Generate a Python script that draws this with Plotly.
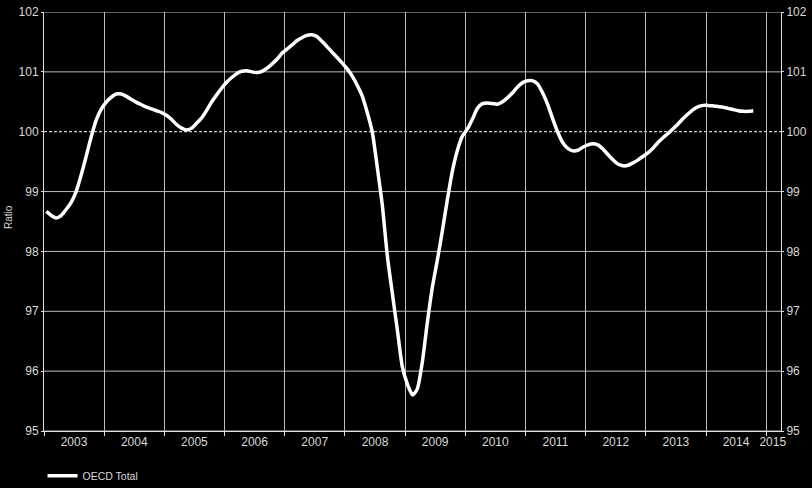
import plotly.graph_objects as go

years = list(range(2003, 2015))
series_name = "OECD Total"

v2003 = [98.67, 98.60, 98.56, 98.60, 98.70, 98.82, 99.00, 99.28, 99.60, 99.92, 100.20, 100.38]
v2004 = [100.50, 100.58, 100.63, 100.63, 100.59, 100.54, 100.49, 100.45, 100.41, 100.38, 100.35, 100.32]
v2005 = [100.27, 100.20, 100.12, 100.06, 100.03, 100.06, 100.14, 100.23, 100.36, 100.50, 100.62, 100.73]
v2006 = [100.83, 100.91, 100.97, 101.01, 101.02, 101.00, 100.99, 101.01, 101.06, 101.13, 101.21, 101.31]
v2007 = [101.38, 101.45, 101.52, 101.57, 101.61, 101.62, 101.59, 101.51, 101.42, 101.33, 101.24, 101.15]
v2008 = [101.05, 100.93, 100.78, 100.60, 100.33, 100.00, 99.42, 98.78, 97.92, 97.30, 96.68, 96.07]
v2009 = [95.78, 95.60, 95.70, 96.15, 96.80, 97.40, 97.85, 98.35, 98.88, 99.35, 99.70, 99.93]
v2010 = [100.05, 100.22, 100.39, 100.47, 100.48, 100.47, 100.46, 100.50, 100.57, 100.65, 100.75, 100.82]
v2011 = [100.85, 100.85, 100.80, 100.65, 100.46, 100.22, 100.00, 99.82, 99.72, 99.68, 99.69, 99.74]
v2012 = [99.78, 99.80, 99.78, 99.71, 99.62, 99.53, 99.46, 99.43, 99.44, 99.48, 99.53, 99.59]
v2013 = [99.65, 99.73, 99.82, 99.90, 99.97, 100.05, 100.13, 100.22, 100.30, 100.37, 100.42, 100.44]
v2014 = [100.44, 100.43, 100.42, 100.41, 100.39, 100.37, 100.35, 100.34, 100.34, 100.35]

yearly_values = [v2003, v2004, v2005, v2006, v2007, v2008, v2009, v2010, v2011, v2012, v2013, v2014]

dates, values = [], []
for y, vals in zip(years, yearly_values):
    for m, v in enumerate(vals, start=1):
        dates.append(f"{y}-{m:02d}-15")
        values.append(v)

tick_years = list(range(2003, 2016))
tick_positions = [f"{y}-07-02" for y in range(2003, 2015)] + ["2015-02-10"]
tick_labels = [str(y) for y in tick_years]

y_ticks = list(range(95, 103))
y_grid = [v for v in y_ticks if v != 100]

grid_col = "#bdbdbd"
text_col = "#d9d9d9"
font = "Liberation Sans, Arial, sans-serif"

fig = go.Figure()
fig.add_trace(go.Scatter(
    x=dates, y=values, mode="lines", name=series_name,
    line=dict(color="white", width=3.5, shape="spline", smoothing=0.6),
))
fig.add_trace(go.Scatter(
    x=dates, y=values, mode="lines", yaxis="y2", showlegend=False,
    line=dict(color="rgba(0,0,0,0)", width=0), hoverinfo="skip",
))

# horizontal grid lines (solid) and dashed reference at 100
for gv in y_grid:
    fig.add_shape(type="line", xref="paper", x0=0, x1=1, yref="y", y0=gv, y1=gv,
                  line=dict(color=grid_col, width=1), layer="between")
fig.add_shape(type="line", xref="paper", x0=0, x1=1, yref="y", y0=100, y1=100,
              line=dict(color="white", width=1, dash="3px,2px"), layer="between")

fig.update_layout(
    width=812, height=488,
    paper_bgcolor="black", plot_bgcolor="black",
    margin=dict(l=44, r=31, t=12, b=57, autoexpand=False),
    font=dict(family=font, color=text_col, size=12),
    showlegend=True,
    legend=dict(orientation="h", x=-0.002, xanchor="left", y=-0.072, yanchor="top",
                font=dict(size=10.5, color=text_col), bgcolor="rgba(0,0,0,0)",
                itemwidth=30),
    xaxis=dict(
        type="date", range=["2003-01-01", "2015-04-01"], automargin=False,
        tickmode="array", tickvals=tick_positions, ticktext=tick_labels,
        ticks="", showgrid=False,
        showline=True, linecolor="#e0e0e0", linewidth=1,
        tickfont=dict(size=12, color=text_col),
        minor=dict(tickmode="linear", tick0="2003-01-01", dtick="M12",
                   showgrid=True, gridcolor=grid_col, gridwidth=1,
                   ticks="outside", ticklen=4, tickcolor="#e0e0e0"),
        zeroline=False,
    ),
    yaxis=dict(
        range=[95, 102], tickmode="array", tickvals=y_ticks, automargin=False,
        showgrid=False,
        showline=True, linecolor="#e0e0e0", linewidth=1,
        ticks="outside", ticklen=2, tickcolor="#e0e0e0",
        tickfont=dict(size=12, color=text_col), zeroline=False,
    ),
    yaxis2=dict(
        range=[95, 102], tickmode="array", tickvals=y_ticks, automargin=False,
        overlaying="y", side="right", showgrid=False,
        showline=True, linecolor="#e0e0e0", linewidth=1,
        ticks="outside", ticklen=2, tickcolor="#e0e0e0",
        tickfont=dict(size=12, color=text_col), zeroline=False,
    ),
    annotations=[dict(text="Ratio", textangle=-90, xref="paper", yref="paper",
                      x=-0.058, y=0.51, showarrow=False,
                      font=dict(size=10, color=text_col))],
)

fig.write_html("out.html", config={"displayModeBar": False},
               post_script="document.body.style.margin='0';document.body.style.background='black';")
